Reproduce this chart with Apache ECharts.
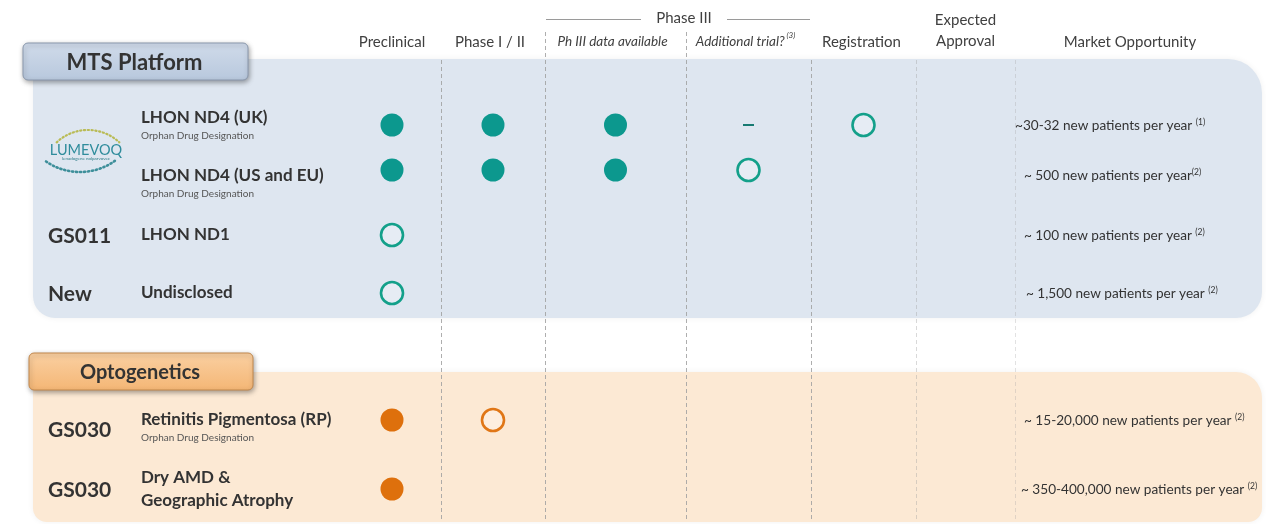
<!DOCTYPE html>
<html>
<head>
<meta charset="utf-8">
<script src="https://cdn.jsdelivr.net/npm/echarts@6/dist/echarts.min.js"></script>
<style>
  html, body { margin: 0; padding: 0; background: #ffffff; }
  #chart { width: 1266px; height: 524px; }
</style>
</head>
<body>
<div id="chart"></div>
<script>
// ---- pipeline data ----
const stages = ['Preclinical', 'Phase I / II', 'Ph III data available', 'Additional trial?', 'Registration', 'Expected\nApproval'];
const stageNotes = ['', '', '', ' (3)', '', ''];
const programs = ['LHON ND4 (UK)', 'LHON ND4 (US and EU)', 'LHON ND1', 'Undisclosed', 'Retinitis Pigmentosa (RP)', 'Dry AMD &\nGeographic Atrophy'];
const codes = ['', '', 'GS011', 'New', 'GS030', 'GS030'];
const designations = ['Orphan Drug Designation', 'Orphan Drug Designation', '', '', 'Orphan Drug Designation', ''];
const platforms = ['MTS Platform', 'MTS Platform', 'MTS Platform', 'MTS Platform', 'Optogenetics', 'Optogenetics'];
// number of stages completed (filled dots), stage under way (open ring), stage not required (dash)
const stagesCompleted = [3, 3, 0, 0, 1, 1];
const currentStage = [4, 3, 0, 0, 1, null];
const stageNotRequired = [3, null, null, null, null, null];
const marketOpportunity = [
  '~30-32 new patients per year ',
  '~ 500 new patients per year',
  '~ 100 new patients per year ',
  '~ 1,500 new patients per year ',
  '~ 15-20,000 new patients per year ',
  '~ 350-400,000 new patients per year '
];
const marketSource = ['(1)', '(2)', '(2)', '(2)', '(2)', '(2)'];

// ---- table geometry ----
const TABLE_LEFT = 343;
const TABLE_WIDTH = 672;
const COL_EDGES = [0, 98, 202, 343, 468, 573, 672];
const ROW_Y = [125, 170, 235, 293, 420, 489];
const TITLE_SHIFT = [-7, 6, 0, 0, 0, 0];
const MARKET_LEFT = [1015, 1024, 1024, 1026, 1024, 1021];
const FONT = 'Lato, "Open Sans", sans-serif';

const PLATFORM_STYLE = {
  'MTS Platform': {
    dot: '#0c988e', ring: '#13a08a',
    panel: { x: 33, y: 59, width: 1229, height: 259, r: [6, 34, 26, 22] },
    panelFill: '#dee6f0',
    box: { x: 23, y: 43, width: 225, height: 37, r: 5 },
    boxTop: '#d0dbea', boxBottom: '#b8c8dd', boxStroke: '#8a98ad', label: 'MTS Platform', labelSize: 22
  },
  'Optogenetics': {
    dot: '#de700c', ring: '#e07616',
    panel: { x: 33, y: 372, width: 1229, height: 150, r: [6, 26, 14, 14] },
    panelFill: '#fce9d4',
    box: { x: 29, y: 353, width: 224, height: 37, r: 5 },
    boxTop: '#fad0a2', boxBottom: '#f4b675', boxStroke: '#c2884d', label: 'Optogenetics', labelSize: 20
  }
};

const stageCenter = i => (COL_EDGES[i] + COL_EDGES[i + 1]) / 2;
const stageX = i => TABLE_LEFT + stageCenter(i);

// ---- marks ----
const filledDots = [], openRings = [], dashes = [];
programs.forEach((name, r) => {
  const st = PLATFORM_STYLE[platforms[r]];
  for (let s = 0; s < stagesCompleted[r]; s++) {
    filledDots.push({ value: [stageCenter(s), ROW_Y[r]], itemStyle: { color: st.dot } });
  }
  if (stageNotRequired[r] !== null) {
    dashes.push({ value: [stageCenter(stageNotRequired[r]), ROW_Y[r]], itemStyle: { color: '#177a72' } });
  }
  if (currentStage[r] !== null) {
    openRings.push({ value: [stageCenter(currentStage[r]), ROW_Y[r]], itemStyle: { borderColor: st.ring } });
  }
});

// dashed column dividers
const dividerTop = [60, 32, 32, 60, 60, 60];
const dividerAlpha = [0.85, 0.85, 0.85, 0.85, 0.4, 0.3];
const dividers = COL_EDGES.slice(1).map((e, i) => [
  { coord: [e, dividerTop[i]], lineStyle: { color: 'rgba(160,160,160,' + dividerAlpha[i] + ')' } },
  { coord: [e, 522] }
]);

// ---- static graphics: panels, headers, labels ----
const graphics = [];
Object.keys(PLATFORM_STYLE).forEach(k => {
  const st = PLATFORM_STYLE[k];
  graphics.push({
    type: 'rect', z: 0, shape: st.panel,
    style: { fill: st.panelFill, shadowBlur: 6, shadowColor: 'rgba(0,0,0,0.06)' }
  });
});
Object.keys(PLATFORM_STYLE).forEach(k => {
  const st = PLATFORM_STYLE[k];
  graphics.push({
    type: 'rect', z: 5, shape: st.box,
    style: {
      fill: { type: 'linear', x: 0, y: 0, x2: 0, y2: 1, colorStops: [{ offset: 0, color: st.boxTop }, { offset: 1, color: st.boxBottom }] },
      stroke: st.boxStroke, lineWidth: 1,
      shadowBlur: 5, shadowOffsetX: 1, shadowOffsetY: 2, shadowColor: 'rgba(0,0,0,0.35)'
    }
  });
  graphics.push({
    type: 'text', z: 6,
    x: st.box.x + st.box.width / 2 - 1, y: st.box.y + st.box.height / 2 + 1,
    style: { text: st.label, font: 'bold ' + st.labelSize + 'px ' + FONT, fill: '#333333', align: 'center', verticalAlign: 'middle' }
  });
});

// column headers
stages.forEach((s, i) => {
  const italic = i === 2 || i === 3;
  const note = stageNotes[i] ? '{sup|' + stageNotes[i] + '}' : '';
  graphics.push({
    type: 'text', z: 6,
    x: stageX(i) + (italic ? -3 : 0) + (i === 4 ? -2 : 0) + (i === 1 ? -3 : 0), y: i === 5 ? 31 : 42,
    style: {
      text: '{h|' + s + '}' + note,
      align: 'center', verticalAlign: 'middle',
      rich: {
        h: { font: (italic ? 'italic ' : '') + (italic ? 13.5 : 15) + 'px ' + FONT, fill: '#404040', lineHeight: 21 },
        sup: { font: 'italic 8px ' + FONT, fill: '#404040', verticalAlign: 'top', lineHeight: 16 }
      }
    }
  });
});
graphics.push({
  type: 'text', z: 6, x: 1130, y: 42,
  style: { text: 'Market Opportunity', font: '15px ' + FONT, fill: '#404040', align: 'center', verticalAlign: 'middle' }
});
graphics.push({
  type: 'text', z: 6, x: 684, y: 18,
  style: { text: 'Phase III', font: '15px ' + FONT, fill: '#404040', align: 'center', verticalAlign: 'middle' }
});
[[546, 641], [727, 810]].forEach(([a, b]) => {
  graphics.push({ type: 'line', z: 6, shape: { x1: a, y1: 19.5, x2: b, y2: 19.5 }, style: { stroke: '#9a9a9a', lineWidth: 1 } });
});

// program rows
programs.forEach((name, r) => {
  const y = ROW_Y[r] + TITLE_SHIFT[r];
  const twoLine = name.indexOf('\n') >= 0;
  graphics.push({
    type: 'text', z: 6, x: 141, y: y,
    style: { text: name, font: 'bold 17px ' + FONT, fill: '#333333', align: 'left', verticalAlign: 'middle', lineHeight: twoLine ? 23 : 20 }
  });
  if (designations[r]) {
    graphics.push({
      type: 'text', z: 6, x: 141, y: y + 18,
      style: { text: designations[r], font: '10px ' + FONT, fill: '#555555', align: 'left', verticalAlign: 'middle' }
    });
  }
  if (codes[r]) {
    graphics.push({
      type: 'text', z: 6, x: 48, y: ROW_Y[r] + (designations[r] ? 10 : 1),
      style: { text: codes[r], font: 'bold 21px ' + FONT, fill: '#333333', align: 'left', verticalAlign: 'middle' }
    });
  }
  graphics.push({
    type: 'text', z: 6, x: MARKET_LEFT[r], y: ROW_Y[r] + (r === 1 ? 6 : 1),
    style: {
      text: '{m|' + marketOpportunity[r] + '}{sup|' + marketSource[r] + '}',
      align: 'left', verticalAlign: 'middle',
      rich: {
        m: { font: '13.6px ' + FONT, fill: '#333333', lineHeight: 17 },
        sup: { font: '8.5px ' + FONT, fill: '#333333', verticalAlign: 'top', lineHeight: 17 }
      }
    }
  });
});

// LUMEVOQ product mark
graphics.push({
  type: 'arc', z: 6,
  shape: { cx: 88, cy: 176, r: 46, startAngle: -Math.PI / 2 - 0.75, endAngle: -Math.PI / 2 + 0.75, clockwise: true },
  style: { fill: null, stroke: '#b9bb55', lineWidth: 2.2, lineDash: [1.2, 2.6], lineCap: 'round' }
});
graphics.push({
  type: 'arc', z: 6,
  shape: { cx: 80, cy: 112, r: 60, startAngle: Math.PI / 2 - 0.62, endAngle: Math.PI / 2 + 0.62, clockwise: true },
  style: { fill: null, stroke: '#3e8f9a', lineWidth: 2.6, lineDash: [1.2, 2.8], lineCap: 'round' }
});
graphics.push({
  type: 'text', z: 6, x: 86, y: 150,
  style: { text: 'LUMEVOQ', font: '14.5px ' + FONT, fill: '#2f8c9c', align: 'center', verticalAlign: 'middle' }
});
graphics.push({
  type: 'text', z: 6, x: 86, y: 159,
  style: { text: 'lenadogene nolparvovec', font: '4.5px ' + FONT, fill: '#2f7c88', align: 'center', verticalAlign: 'middle' }
});

const chart = echarts.init(document.getElementById('chart'), null, { renderer: 'canvas' });
chart.setOption({
  backgroundColor: '#ffffff',
  animation: false,
  grid: { left: TABLE_LEFT, width: TABLE_WIDTH, top: 0, height: 524 },
  xAxis: { type: 'value', min: 0, max: TABLE_WIDTH, show: false },
  yAxis: { type: 'value', min: 0, max: 524, inverse: true, show: false },
  graphic: { elements: graphics },
  series: [
    {
      type: 'scatter', name: 'dividers', data: [], z: 1,
      markLine: {
        silent: true, symbol: 'none', label: { show: false },
        lineStyle: { type: [4, 3], width: 1, color: '#999999' },
        data: dividers
      }
    },
    {
      type: 'scatter', name: 'completed', data: filledDots, z: 3,
      symbol: 'circle', symbolSize: 23, itemStyle: { opacity: 1 }
    },
    {
      type: 'scatter', name: 'under way', data: openRings, z: 3,
      symbol: 'circle', symbolSize: 22,
      itemStyle: { color: 'rgba(255,255,255,0.25)', borderWidth: 2.6, opacity: 1 }
    },
    {
      type: 'scatter', name: 'not required', data: dashes, z: 3,
      symbol: 'rect', symbolSize: [11, 2], itemStyle: { opacity: 1 }
    }
  ]
});
</script>
</body>
</html>
